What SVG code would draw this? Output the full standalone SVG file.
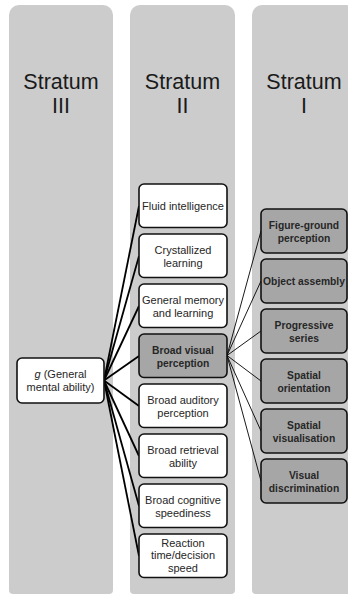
<svg xmlns="http://www.w3.org/2000/svg" width="348" height="595" viewBox="0 0 348 595">
<style>
.col{fill:#cccccc}
.hd{font-family:"Liberation Sans",Arial,sans-serif;font-size:21.5px;fill:#1a1a1a;text-anchor:middle}
.w{fill:#ffffff;stroke:#111111;stroke-width:1.6}
.g{fill:#a6a6a6;stroke:#111111;stroke-width:1.6}
.t{font-family:"Liberation Sans",Arial,sans-serif;font-size:11px;fill:#262626;text-anchor:middle}
.b{font-family:"Liberation Sans",Arial,sans-serif;font-size:10.3px;font-weight:bold;fill:#262626;text-anchor:middle}
.c1{stroke:#000000;stroke-width:1.8;fill:none}
.c2{stroke:#000000;stroke-width:0.9;fill:none}
</style>
<path class="col" d="M9,15 A10,10 0 0 1 19,5 H103 A10,10 0 0 1 113,15 V590 A4,4 0 0 1 109,594 H13 A4,4 0 0 1 9,590 Z"/>
<path class="col" d="M130,15 A10,10 0 0 1 140,5 H225 A10,10 0 0 1 235,15 V590 A4,4 0 0 1 231,594 H134 A4,4 0 0 1 130,590 Z"/>
<path class="col" d="M252,15 A10,10 0 0 1 262,5 H346 A10,10 0 0 1 356,15 V590 A4,4 0 0 1 352,594 H256 A4,4 0 0 1 252,590 Z"/>
<text class="hd" x="61" y="89">Stratum</text>
<text class="hd" x="61" y="113">III</text>
<text class="hd" x="182.5" y="89">Stratum</text>
<text class="hd" x="182.5" y="113">II</text>
<text class="hd" x="304" y="89">Stratum</text>
<text class="hd" x="304" y="113">I</text>
<g id="connectors">
<line class="c1" x1="104" y1="380.5" x2="139" y2="206"/>
<line class="c1" x1="104" y1="380.5" x2="139" y2="256"/>
<line class="c1" x1="104" y1="380.5" x2="139" y2="306"/>
<line class="c1" x1="104" y1="380.5" x2="139" y2="356"/>
<line class="c1" x1="104" y1="380.5" x2="139" y2="406"/>
<line class="c1" x1="104" y1="380.5" x2="139" y2="456"/>
<line class="c1" x1="104" y1="380.5" x2="139" y2="506"/>
<line class="c1" x1="104" y1="380.5" x2="139" y2="556"/>
<line class="c2" x1="227" y1="355.5" x2="261" y2="231"/>
<line class="c2" x1="227" y1="355.5" x2="261" y2="281"/>
<line class="c2" x1="227" y1="355.5" x2="261" y2="331"/>
<line class="c2" x1="227" y1="355.5" x2="261" y2="381"/>
<line class="c2" x1="227" y1="355.5" x2="261" y2="431"/>
<line class="c2" x1="227" y1="355.5" x2="261" y2="481"/>
</g>
<g id="g-general">
<rect class="w" x="17" y="358" width="87" height="45" rx="5"/>
<text class="t" x="60.5" y="378"><tspan font-style="italic">g</tspan> (General</text>
<text class="t" x="60.5" y="391">mental ability)</text>
</g>
<g id="fluid">
<rect class="w" x="139" y="184" width="88" height="43.5" rx="5"/>
<text class="t" x="183" y="210">Fluid intelligence</text>
</g>
<g id="crystallized">
<rect class="w" x="139" y="234" width="88" height="43.5" rx="5"/>
<text class="t" x="183" y="254">Crystallized</text>
<text class="t" x="183" y="267">learning</text>
</g>
<g id="memory">
<rect class="w" x="139" y="284" width="88" height="43.5" rx="5"/>
<text class="t" x="183" y="304">General memory</text>
<text class="t" x="183" y="317">and learning</text>
</g>
<g id="visual">
<rect class="g" x="139" y="334" width="88" height="43.5" rx="5"/>
<text class="b" x="183" y="353.5">Broad visual</text>
<text class="b" x="183" y="366.5">perception</text>
</g>
<g id="auditory">
<rect class="w" x="139" y="384" width="88" height="43.5" rx="5"/>
<text class="t" x="183" y="404">Broad auditory</text>
<text class="t" x="183" y="417">perception</text>
</g>
<g id="retrieval">
<rect class="w" x="139" y="434" width="88" height="43.5" rx="5"/>
<text class="t" x="183" y="454">Broad retrieval</text>
<text class="t" x="183" y="467">ability</text>
</g>
<g id="cognitive">
<rect class="w" x="139" y="484" width="88" height="43.5" rx="5"/>
<text class="t" x="183" y="504">Broad cognitive</text>
<text class="t" x="183" y="517">speediness</text>
</g>
<g id="reaction">
<rect class="w" x="139" y="534" width="88" height="43.5" rx="5"/>
<text class="t" x="183" y="546.5">Reaction</text>
<text class="t" x="183" y="559">time/decision</text>
<text class="t" x="183" y="571.5">speed</text>
</g>
<g id="figure-ground">
<rect class="g" x="261" y="209" width="86" height="44" rx="5"/>
<text class="b" x="304" y="228.5">Figure-ground</text>
<text class="b" x="304" y="241.5">perception</text>
</g>
<g id="object-assembly">
<rect class="g" x="261" y="259" width="86" height="44" rx="5"/>
<text class="b" x="304" y="284.5">Object assembly</text>
</g>
<g id="progressive">
<rect class="g" x="261" y="309" width="86" height="44" rx="5"/>
<text class="b" x="304" y="328.5">Progressive</text>
<text class="b" x="304" y="341.5">series</text>
</g>
<g id="orientation">
<rect class="g" x="261" y="359" width="86" height="44" rx="5"/>
<text class="b" x="304" y="378.5">Spatial</text>
<text class="b" x="304" y="391.5">orientation</text>
</g>
<g id="visualisation">
<rect class="g" x="261" y="409" width="86" height="44" rx="5"/>
<text class="b" x="304" y="428.5">Spatial</text>
<text class="b" x="304" y="441.5">visualisation</text>
</g>
<g id="discrimination">
<rect class="g" x="261" y="459" width="86" height="44" rx="5"/>
<text class="b" x="304" y="478.5">Visual</text>
<text class="b" x="304" y="491.5">discrimination</text>
</g>
</svg>
